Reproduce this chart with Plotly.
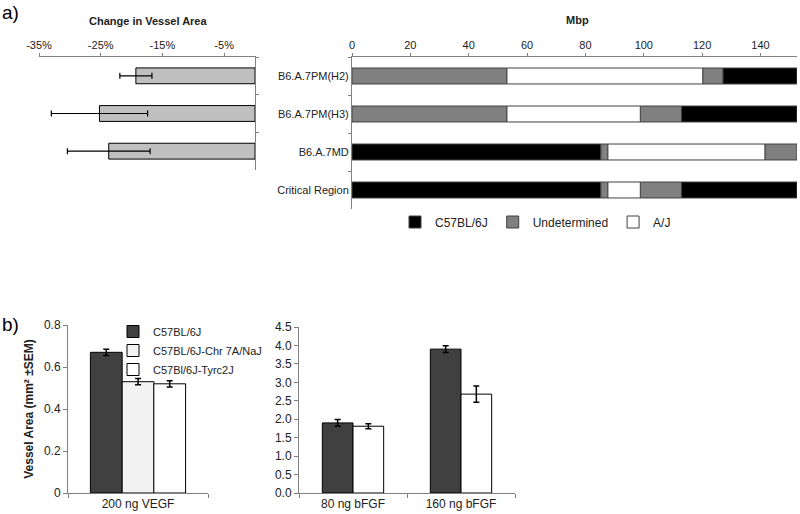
import plotly.graph_objects as go

W, H = 800, 514
FONT = "Liberation Sans, Arial, sans-serif"

# ---------------- Data ----------------
# Panel a (left): change in vessel area
change_rows = ["B6.A.7PM(H2)", "B6.A.7PM(H3)", "B6.A.7MD"]
change_vals = [-0.193, -0.252, -0.237]
change_err = [0.026, 0.078, 0.067]
change_ticks = [-0.35, -0.25, -0.15, -0.05]
change_ticktext = ["-35%", "-25%", "-15%", "-5%"]

# Panel a (right): chromosome 7 genotype segments (Mbp)
geno_rows = ["B6.A.7PM(H2)", "B6.A.7PM(H3)", "B6.A.7MD", "Critical Region"]
seg_row = ["B6.A.7PM(H2)", "B6.A.7PM(H2)", "B6.A.7PM(H2)", "B6.A.7PM(H2)",
           "B6.A.7PM(H3)", "B6.A.7PM(H3)", "B6.A.7PM(H3)", "B6.A.7PM(H3)",
           "B6.A.7MD", "B6.A.7MD", "B6.A.7MD", "B6.A.7MD",
           "Critical Region", "Critical Region", "Critical Region", "Critical Region", "Critical Region"]
seg_start = [0, 53.1, 120.2, 127.1,
             0, 53.1, 98.8, 112.9,
             0, 85.3, 87.7, 141.5,
             0, 85.3, 87.7, 98.8, 112.9]
seg_end = [53.1, 120.2, 127.1, 152.5,
           53.1, 98.8, 112.9, 152.5,
           85.3, 87.7, 141.5, 152.5,
           85.3, 87.7, 98.8, 112.9, 152.5]
seg_type = ["Undetermined", "A/J", "Undetermined", "C57BL/6J",
            "Undetermined", "A/J", "Undetermined", "C57BL/6J",
            "C57BL/6J", "Undetermined", "A/J", "Undetermined",
            "C57BL/6J", "Undetermined", "A/J", "Undetermined", "C57BL/6J"]
geno_types = ["C57BL/6J", "Undetermined", "A/J"]
geno_colors = {"C57BL/6J": "#000000", "Undetermined": "#808080", "A/J": "#ffffff"}

# Panel b (left): VEGF
vegf_cat = ["200 ng VEGF"]
strains = ["C57BL/6J", "C57BL/6J-Chr 7A/NaJ", "C57Bl/6J-Tyrc2J"]
vegf_vals = [[0.67], [0.53], [0.52]]
vegf_err = [[0.015], [0.015], [0.015]]
strain_colors = ["#404040", "#f2f2f2", "#ffffff"]

# Panel b (right): bFGF
bfgf_cat = ["80 ng bFGF", "160 ng bFGF"]
bfgf_vals = [[1.90, 3.90], [1.81, 2.68]]
bfgf_err = [[0.09, 0.09], [0.07, 0.22]]
bfgf_colors = ["#404040", "#ffffff"]


def px(x):
    return x / W


def py(y):
    return 1 - y / H


fig = go.Figure()

# Panel a left
fig.add_trace(go.Bar(
    y=change_rows, x=change_vals, orientation="h",
    marker=dict(color="#c0c0c0", line=dict(color="#000000", width=1)),
    width=0.42, offset=-0.21,
    error_x=dict(type="data", array=change_err, color="#000000", thickness=1.2, width=3),
    xaxis="x", yaxis="y", showlegend=False, hoverinfo="skip",
))

# Panel a right (segments)
for t in geno_types:
    idx = [i for i, s in enumerate(seg_type) if s == t]
    fig.add_trace(go.Bar(
        y=[seg_row[i] for i in idx],
        x=[seg_end[i] - seg_start[i] for i in idx],
        base=[seg_start[i] for i in idx],
        orientation="h", name=t,
        marker=dict(color=geno_colors[t], line=dict(color="#404040", width=1)),
        width=0.42, offset=-0.21,
        xaxis="x2", yaxis="y2", legend="legend", hoverinfo="skip",
    ))

# Panel b left
offs3 = [-0.34, -0.113, 0.113]
for i, s in enumerate(strains):
    fig.add_trace(go.Bar(
        x=vegf_cat, y=vegf_vals[i], name=s,
        marker=dict(color=strain_colors[i], line=dict(color="#000000", width=1)),
        width=0.227, offset=offs3[i],
        error_y=dict(type="data", array=vegf_err[i], color="#000000", thickness=1.5, width=3),
        xaxis="x3", yaxis="y3", legend="legend2",
    ))

# Panel b right
offs2 = [-0.284, 0.0]
for i in range(2):
    fig.add_trace(go.Bar(
        x=bfgf_cat, y=bfgf_vals[i], name=strains[i],
        marker=dict(color=bfgf_colors[i], line=dict(color="#000000", width=1)),
        width=0.284, offset=offs2[i],
        error_y=dict(type="data", array=bfgf_err[i], color="#000000", thickness=1.5, width=3),
        xaxis="x4", yaxis="y4", showlegend=False,
    ))

base_ax = dict(showline=True, linecolor="#808080", linewidth=1, showgrid=False,
               zeroline=False, ticks="outside", tickcolor="#808080", automargin=False)

fig.update_layout(
    width=W, height=H, margin=dict(l=0, r=0, t=0, b=0, autoexpand=False),
    paper_bgcolor="#ffffff", plot_bgcolor="#ffffff",
    barmode="overlay",
    font=dict(family=FONT, size=11, color="#222222"),
    xaxis=dict(domain=[px(39), px(255)], range=[-0.35, 0], side="top",
               tickvals=change_ticks, ticktext=change_ticktext,
               anchor="y", tickfont=dict(size=11), ticklen=3, **base_ax),
    yaxis=dict(domain=[py(170), py(57)], side="right", anchor="x",
               categoryorder="array", categoryarray=change_rows, autorange="reversed",
               showticklabels=False, tickson="boundaries", ticklen=3, **base_ax),
    xaxis2=dict(domain=[px(352), px(797)], range=[0, 152.5], side="top", dtick=20,
                anchor="y2", tickfont=dict(size=11), ticklen=3, **base_ax),
    yaxis2=dict(domain=[py(209), py(57)], anchor="x2",
                categoryorder="array", categoryarray=geno_rows, autorange="reversed",
                tickson="boundaries", ticklen=3, tickfont=dict(size=11), **base_ax),
    xaxis3=dict(domain=[px(68), px(208)], anchor="y3", tickson="boundaries",
                tickfont=dict(size=12), ticklen=4, **base_ax),
    yaxis3=dict(domain=[py(493), py(325)], anchor="x3", range=[0, 0.8], dtick=0.2,
                tickfont=dict(size=12), ticklen=4,
                title=dict(text="<b>Vessel Area (mm² ±SEM)</b>", font=dict(size=12), standoff=7),
                **base_ax),
    xaxis4=dict(domain=[px(299), px(515)], anchor="y4", tickson="boundaries",
                tickfont=dict(size=12), ticklen=4, **base_ax),
    yaxis4=dict(domain=[py(493), py(327)], anchor="x4", range=[0, 4.5], dtick=0.5,
                tickformat=".1f", tickfont=dict(size=12), ticklen=4, **base_ax),
    legend=dict(orientation="h", x=px(395), y=py(222), xanchor="left", yanchor="middle",
                font=dict(size=12), bgcolor="rgba(0,0,0,0)", traceorder="normal"),
    legend2=dict(x=px(113), y=py(317), xanchor="left", yanchor="top",
                 font=dict(size=11), bgcolor="rgba(0,0,0,0)", tracegroupgap=0,
                 itemwidth=30, traceorder="normal"),
    annotations=[
        dict(text="a)", x=px(0), y=py(0), xref="paper", yref="paper", xanchor="left", yanchor="top",
             showarrow=False, font=dict(size=19, color="#000000")),
        dict(text="b)", x=px(0), y=py(312), xref="paper", yref="paper", xanchor="left", yanchor="top",
             showarrow=False, font=dict(size=19, color="#000000")),
        dict(text="<b>Change in Vessel Area</b>", x=px(148), y=py(21), xref="paper", yref="paper",
             xanchor="center", yanchor="middle", showarrow=False, font=dict(size=11, color="#222222")),
        dict(text="<b>Mbp</b>", x=px(577), y=py(20), xref="paper", yref="paper",
             xanchor="center", yanchor="middle", showarrow=False, font=dict(size=11, color="#222222")),
    ],
)

fig.write_html(
    "out.html",
    config={"displayModeBar": False},
    post_script="document.body.style.margin='0';document.body.style.overflow='hidden';",
)
